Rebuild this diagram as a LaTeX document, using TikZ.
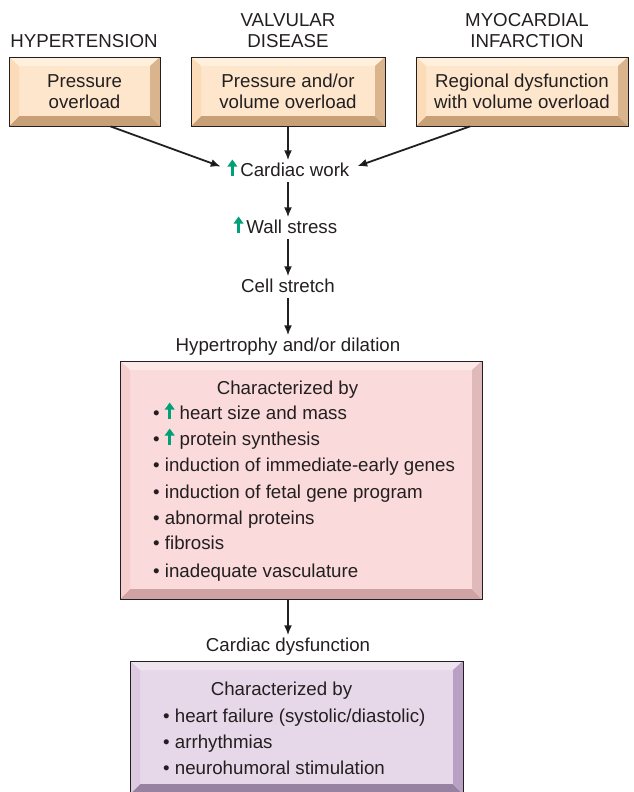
\documentclass[tikz,border=0pt]{standalone}
\usepackage{fontspec}
\setmainfont{Liberation Sans}
\usetikzlibrary{arrows.meta, positioning, calc}

\definecolor{beigeFace}{RGB}{253,230,204}
\definecolor{beigeTop}{RGB}{255,240,222}
\definecolor{beigeLeft}{RGB}{252,219,184}
\definecolor{beigeRight}{RGB}{217,180,140}
\definecolor{beigeBot}{RGB}{200,160,120}
\definecolor{pinkFace}{RGB}{250,218,218}
\definecolor{pinkTop}{RGB}{253,232,232}
\definecolor{pinkLeft}{RGB}{247,206,206}
\definecolor{pinkRight}{RGB}{224,186,186}
\definecolor{pinkBot}{RGB}{207,162,164}
\definecolor{lilacFace}{RGB}{230,216,232}
\definecolor{lilacTop}{RGB}{238,228,240}
\definecolor{lilacLeft}{RGB}{220,202,225}
\definecolor{lilacRight}{RGB}{185,160,196}
\definecolor{lilacBot}{RGB}{152,130,162}
\definecolor{upgreen}{RGB}{0,160,120}
\definecolor{inkgray}{RGB}{35,31,32}

\newcommand{\ppb}{path picture bounding box}
% small green "increase" arrow used inside texts
\newcommand{\upar}{\tikz[baseline=0pt]\draw[upgreen, line width=3pt,
    -{Triangle[length=7pt, width=9.5pt]}] (0pt,0pt) -- (0pt,16.5pt);}

\tikzset{
    bevelbox/.style={draw=inkgray, line width=0.8pt, fill=#1Face,
        font=\fontsize{18.7}{21}\selectfont, text=inkgray, align=center, inner sep=0pt,
        path picture={
            \fill[#1Top] (\ppb.north west) -- (\ppb.north east)
                -- ([shift={(-10pt,-9pt)}]\ppb.north east) -- ([shift={(10pt,-9pt)}]\ppb.north west) -- cycle;
            \fill[#1Bot] (\ppb.south west) -- (\ppb.south east)
                -- ([shift={(-10pt,10pt)}]\ppb.south east) -- ([shift={(10pt,10pt)}]\ppb.south west) -- cycle;
            \fill[#1Left] (\ppb.north west) -- ([shift={(10pt,-9pt)}]\ppb.north west)
                -- ([shift={(10pt,10pt)}]\ppb.south west) -- (\ppb.south west) -- cycle;
            \fill[#1Right] (\ppb.north east) -- ([shift={(-10pt,-9pt)}]\ppb.north east)
                -- ([shift={(-10pt,10pt)}]\ppb.south east) -- (\ppb.south east) -- cycle;
        }},
    lbl/.style={font=\fontsize{18.7}{21}\selectfont, text=inkgray, inner sep=2pt,
        text height=13.5pt, text depth=4pt},
    head/.style={font=\fontsize{18.7}{21}\selectfont, text=inkgray, align=center, inner sep=1pt},
    conn/.style={-{Latex[length=10pt, width=8pt]}, line width=1.8pt, draw=inkgray},
}

\begin{document}
\begin{tikzpicture}[x=1pt, y=-1pt]
    \useasboundingbox (0,0) rectangle (633,792);
    \clip (0,0) rectangle (633,792);

    % Causes
    \node[head] (hypt) at (84,41) {HYPERTENSION};
    \node[head] (valv) at (288,31) {VALVULAR\\DISEASE};
    \node[head] (myoc) at (527,31) {MYOCARDIAL\\INFARCTION};

    \node[bevelbox=beige, minimum width=151pt, minimum height=69pt]
        (press) at (84.5,91.5) {Pressure\\overload};
    \node[bevelbox=beige, minimum width=194pt, minimum height=69pt]
        (volum) at (288,91.5) {Pressure and/or\\volume overload};
    \node[bevelbox=beige, minimum width=212pt, minimum height=69pt]
        (regio) at (522,91.5) {Regional dysfunction\\with volume overload};

    % Chain of steps
    \node[lbl, anchor=base] (work) at (288.5,176) {\upar\,Cardiac work};
    \node[lbl, anchor=base] (stress) at (285.5,233) {\upar\,Wall stress};
    \node[lbl, anchor=base] (stretch) at (288,292) {Cell stretch};
    \node[lbl, anchor=base] (hyper) at (288,351) {Hypertrophy and/or dilation};

    \draw[conn, shorten >=5pt] ([xshift=26pt]press.south) -- ([yshift=3pt]work.west);
    \draw[conn] (volum.south) -- (volum.south |- work.north);
    \draw[conn, shorten >=6pt] ([xshift=-52pt]regio.south) -- ([yshift=3pt]work.east);
    \draw[conn] (work.south -| volum.south) -- (stress.north -| volum.south);
    \draw[conn] (stress.south -| volum.south) -- (stretch.north -| volum.south);
    \draw[conn] (stretch.south -| volum.south) -- (hyper.north -| volum.south);

    % Hypertrophy box
    \node[bevelbox=pink, minimum width=362pt, minimum height=238pt] (pinkbox) at (301,480) {};
    \node[lbl, anchor=base] (pinkhd) at (287.5,394) {Characterized by};
    \foreach \y/\txt [count=\i] in {419/{• \upar\ heart size and mass},
                                  445/{• \upar\ protein synthesis},
                                  471/{• induction of immediate-early genes},
                                  498/{• induction of fetal gene program},
                                  524/{• abnormal proteins},
                                  549/{• fibrosis},
                                  577/{• inadequate vasculature}} {
        \node[lbl, anchor=base west, inner sep=0pt] (pk\i) at (153,\y) {\txt};
    }

    \node[lbl, anchor=base] (dysf) at (288,651) {Cardiac dysfunction};
    \draw[conn] (dysf.north |- pinkbox.south) -- (dysf.north);

    % Dysfunction box
    \node[bevelbox=lilac, minimum width=333pt, minimum height=133pt] (lilacbox) at (296.5,727.5) {};
    \node[lbl, anchor=base] (lilachd) at (281.5,695) {Characterized by};
    \foreach \y/\txt [count=\i] in {722/{• heart failure (systolic/diastolic)},
                                  748/{• arrhythmias},
                                  774/{• neurohumoral stimulation}} {
        \node[lbl, anchor=base west, inner sep=0pt] (lk\i) at (163,\y) {\txt};
    }
\end{tikzpicture}
\end{document}
